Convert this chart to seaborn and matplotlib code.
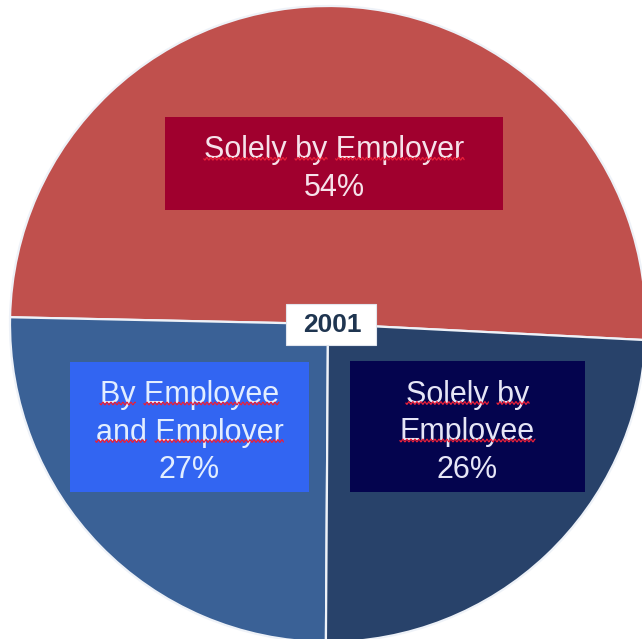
import numpy as np
import matplotlib
matplotlib.use("Agg")
import matplotlib.pyplot as plt
import seaborn as sns
from matplotlib.patches import Rectangle
from matplotlib.font_manager import FontProperties

# Who pays the contribution, 2001
categories = ["Solely by Employer", "By Employee\nand Employer", "Solely by\nEmployee"]
shares = [54, 27, 26]
year_label = "2001"

sns.set_style("white")
plt.rcParams["font.family"] = ["Liberation Sans", "DejaVu Sans"]

slice_colors = ["#C0504D", "#3A6196", "#28426A"]
box_colors = ["#A0002E", "#3265F2", "#04044E"]
text_colors = ["#F6E2EA", "#E2EEFF", "#E6E6F6"]

W, H = 642, 639
fig = plt.figure(figsize=(W / 100, H / 100), dpi=100)
ax = fig.add_axes([0, 0, 1, 1])

# pie centre and radius in pixels
cx, cy, R = 328, 324, 318
ax.pie(shares, colors=slice_colors, startangle=-2.9, counterclock=True,
       radius=1, center=(0, 0),
       wedgeprops=dict(edgecolor="#EEF2F8", linewidth=1.6))
ax.set_xlim(-cx / R, (W - cx) / R)
ax.set_ylim(-(H - cy) / R, cy / R)
ax.set_aspect("equal")
ax.axis("off")


def fig_xy(px, py):
    return px / W, 1 - py / H


def pixel_rect(x0, y0, x1, y1, color, z=5, edge="none"):
    fx, fy = fig_xy(x0, y1)
    fig.patches.append(Rectangle((fx, fy), (x1 - x0) / W, (y1 - y0) / H,
                                 transform=fig.transFigure, facecolor=color,
                                 edgecolor=edge, linewidth=0.8, zorder=z))


renderer = fig.canvas.get_renderer()
FS = 22
prop = FontProperties(family=["Liberation Sans", "DejaVu Sans"], size=FS)
px_per_pt = 100 / 72


def text_width(s):
    w, _, _ = renderer.get_text_width_height_descent(s, prop, ismath=False)
    return w


def squiggle(xa, xb, yb):
    # proofing-style wavy underline from xa to xb at pixel row yb
    xs = np.linspace(xa, xb, max(int((xb - xa) * 2), 4))
    ys = yb + 1.3 * np.sin((xs - xa) * 2 * np.pi / 4.0)
    fig.lines.append(plt.Line2D(xs / W, 1 - ys / H, transform=fig.transFigure,
                                color="#E8203A", linewidth=0.9, zorder=7))


line_step = 37.5
boxes = [(165, 117, 503, 210), (70, 362, 309, 492), (350, 361, 585, 492)]
for (x0, y0, x1, y1), cat, val, bc, tc in zip(boxes, categories, shares,
                                             box_colors, text_colors):
    pixel_rect(x0, y0, x1, y1, bc)
    lines = cat.split("\n") + [f"{val}%"]
    n = len(lines)
    mid_x = (x0 + x1) / 2
    mid_y = (y0 + y1) / 2 + 2
    for i, ln in enumerate(lines):
        yc = mid_y + (i - (n - 1) / 2) * line_step
        fx, fy = fig_xy(mid_x, yc)
        fig.text(fx, fy, ln, ha="center", va="center_baseline",
                 fontproperties=prop, color=tc, zorder=6)
        if ln.endswith("%"):
            continue
        total = text_width(ln)
        left = mid_x - total / 2
        pos = 0
        for word in ln.split(" "):
            start = ln.index(word, pos)
            xa = left + text_width(ln[:start]) if start else left
            xb = left + text_width(ln[:start + len(word)])
            pos = start + len(word)
            squiggle(xa, xb, yc + 12)

# year tag at the centre
pixel_rect(286, 304, 376, 345, "white", z=5, edge="#E2E6EE")
fx, fy = fig_xy(332, 325)
fig.text(fx, fy, year_label, ha="center", va="center", fontsize=19,
         fontweight="bold", color="#1F3550", zorder=6)

fig.savefig("out.png", dpi=100, facecolor="white")
